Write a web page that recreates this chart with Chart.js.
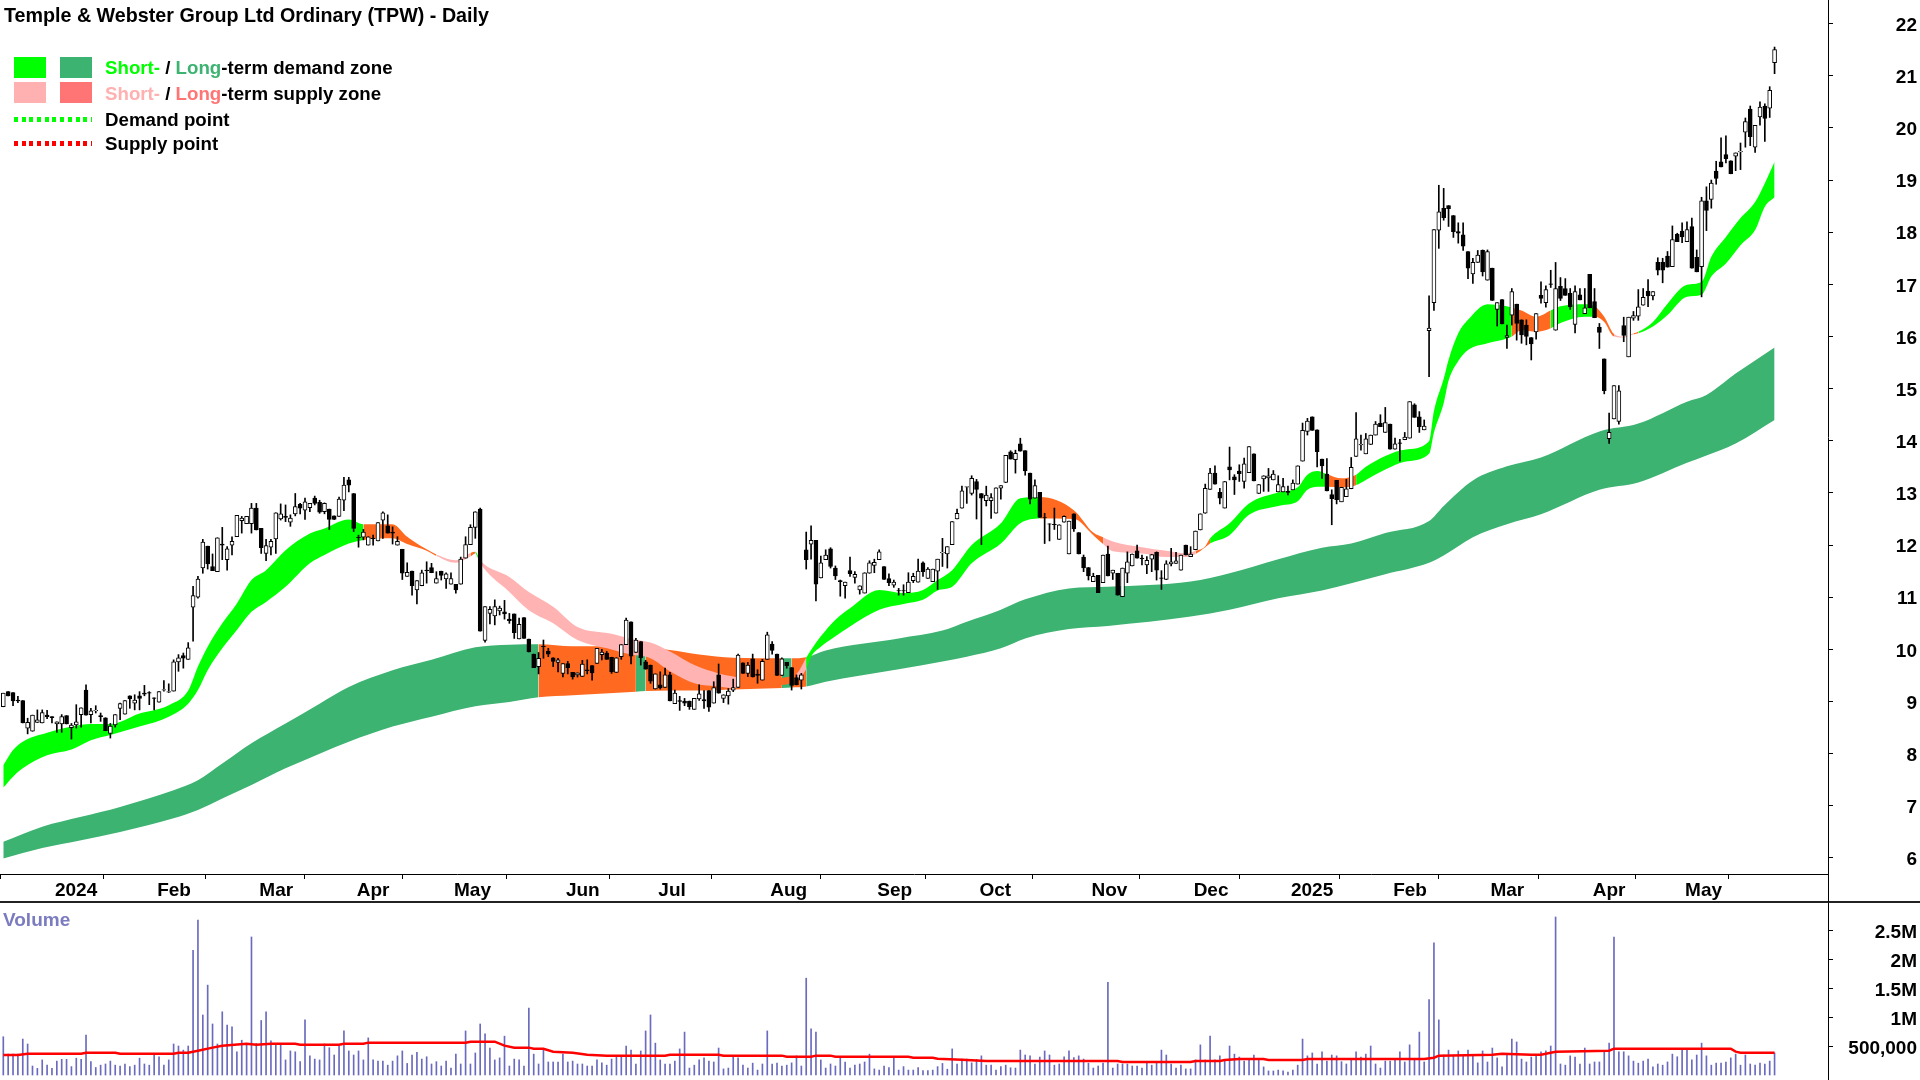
<!DOCTYPE html>
<html>
<head>
<meta charset="utf-8">
<title>TPW</title>
<script src="https://cdn.jsdelivr.net/npm/chart.js@4"></script>
<style>
  html, body { margin: 0; padding: 0; background: #fff; overflow: hidden; }
  body { width: 1920px; height: 1080px; position: relative; font-family: "Liberation Sans", Arial, sans-serif; font-weight: bold; color: #000; }
  canvas { position: absolute; left: 0; }
  #chartPreco { top: 0; }
  #chartVolume { top: 902px; }
  .abs { position: absolute; white-space: nowrap; }
  #titulo { left: 4px; top: 3px; font-size: 19.7px; line-height: 24px; }
  .leg { left: 105px; font-size: 18.7px; line-height: 24px; }
  .caixa { width: 32px; height: 21px; }
  .pontos { left: 14px; width: 78px; height: 5px; }
  #separador { left: 0; top: 901px; width: 1920px; height: 2px; background: #222; }
  #eixoMeio { left: 1828px; top: 874px; width: 1px; height: 28px; background: #000; }
  #rotuloVol { left: 3px; top: 908px; font-size: 19px; line-height: 24px; color: #7b7bc0; }
</style>
</head>
<body>
<canvas id="chartPreco" width="1920" height="902"></canvas>
<canvas id="chartVolume" width="1920" height="178"></canvas>

<div id="separador" class="abs"></div>
<div id="eixoMeio" class="abs"></div>
<div id="titulo" class="abs">Temple &amp; Webster Group Ltd Ordinary (TPW) - Daily</div>

<div class="abs caixa" style="left:14px;top:57px;background:#00ff00"></div>
<div class="abs caixa" style="left:60px;top:57px;background:#3cb371"></div>
<div class="abs caixa" style="left:14px;top:82px;background:#ffb0b0"></div>
<div class="abs caixa" style="left:60px;top:82px;background:#ff7575"></div>
<div class="abs leg" style="top:56px"><span style="color:#00ff00">Short-</span> / <span style="color:#3cb371">Long</span>-term demand zone</div>
<div class="abs leg" style="top:82px"><span style="color:#ffb0b0">Short-</span> / <span style="color:#ff7575">Long</span>-term supply zone</div>
<div class="abs pontos" style="top:117px;background:repeating-linear-gradient(90deg,#00ff00 0 4px,transparent 4px 7.7px)"></div>
<div class="abs pontos" style="top:141px;background:repeating-linear-gradient(90deg,#ff0000 0 4px,transparent 4px 7.7px)"></div>
<div class="abs leg" style="top:108px">Demand point</div>
<div class="abs leg" style="top:132px">Supply point</div>
<div id="rotuloVol" class="abs">Volume</div>

<script>
// =========================
// Daily prices
// =========================
const opens = [
  8.90, 9.19, 9.17, 9.03, 9.02, 8.49, 8.43, 8.60, 8.59, 8.74,
  8.71, 8.57, 8.57, 8.73, 8.50, 8.55, 8.75, 9.22, 8.75, 8.82,
  8.73, 8.69, 8.39, 8.55, 8.87, 8.76, 9.11, 8.97, 9.11, 9.16,
  9.17, 9.07, 8.99, 9.22, 9.18, 9.20, 9.76, 9.88, 9.81, 10.81,
  11.00, 11.56, 11.98, 11.59, 11.49, 12.02, 11.72, 12.00, 12.16, 12.47,
  12.41, 12.41, 12.71, 12.32, 11.84, 11.96, 12.12, 12.50, 12.55, 12.44,
  12.60, 12.78, 12.67, 12.72, 12.90, 12.82, 12.64, 12.69, 12.56, 12.55,
  12.86, 13.25, 12.99, 12.15, 12.15, 12.00, 12.13, 12.08, 12.48, 12.37,
  12.25, 12.00, 11.92, 11.40, 11.50, 11.14, 11.22, 11.52, 11.57, 11.27,
  11.50, 11.35, 11.25, 11.25, 11.25, 11.75, 12.01, 12.34, 12.69, 10.17,
  10.69, 10.64, 10.74, 10.72, 10.58, 10.68, 10.20, 10.61, 10.20, 9.91,
  9.67, 10.06, 9.97, 9.84, 9.75, 9.54, 9.73, 9.56, 9.51, 9.48,
  9.61, 9.69, 9.73, 9.90, 9.93, 9.85, 9.56, 9.86, 10.09, 10.53,
  9.94, 10.15, 9.76, 9.70, 9.24, 9.32, 9.27, 9.51, 8.96, 9.02,
  9.01, 9.01, 8.85, 9.05, 9.04, 9.21, 8.97, 9.51, 9.06, 9.11,
  9.22, 9.27, 9.74, 9.54, 9.82, 9.52, 9.41, 9.81, 10.10, 9.91,
  9.50, 9.75, 9.65, 9.46, 9.41, 11.91, 12.02, 12.09, 11.37, 11.72,
  11.93, 11.56, 11.32, 11.22, 11.51, 11.38, 11.14, 11.08, 11.46, 11.61,
  11.72, 11.59, 11.36, 11.23, 11.13, 11.13, 11.09, 11.32, 11.29, 11.66,
  11.36, 11.30, 11.50, 11.85, 11.83, 12.01, 12.50, 12.71, 13.11, 12.99,
  13.22, 12.99, 12.85, 12.85, 12.61, 13.09, 13.20, 13.79, 13.64, 13.94,
  13.81, 13.38, 12.90, 13.01, 12.53, 12.41, 12.40, 12.11, 12.44, 11.83,
  12.60, 12.24, 11.77, 11.57, 11.30, 11.42, 11.28, 11.83, 11.46, 11.46,
  11.01, 11.46, 11.60, 11.89, 11.75, 11.62, 11.73, 11.86, 11.37, 11.34,
  11.64, 11.65, 11.52, 12.00, 11.78, 11.91, 12.29, 12.61, 13.07, 13.38,
  13.01, 12.71, 13.50, 13.31, 13.42, 13.22, 13.39, 13.75, 12.99, 13.27,
  13.29, 13.25, 13.02, 13.02, 13.03, 13.06, 13.17, 13.61, 14.18, 14.46,
  14.21, 13.65, 13.36, 12.97, 13.24, 12.83, 12.93, 13.08, 13.70, 13.92,
  13.75, 13.93, 14.11, 14.34, 14.16, 14.32, 13.84, 13.96, 14.02, 14.05,
  14.69, 14.46, 14.21, 16.11, 16.65, 18.04, 18.46, 18.51, 18.32, 18.01,
  17.95, 17.63, 17.20, 17.42, 17.65, 17.08, 17.31, 16.52, 16.71, 15.98,
  16.41, 16.62, 16.32, 16.22, 15.98, 16.09, 16.79, 16.65, 17.01, 16.12,
  16.96, 16.92, 16.83, 16.23, 16.80, 16.44, 17.19, 16.67, 16.18, 15.57,
  14.04, 14.42, 14.37, 16.21, 15.61, 16.35, 16.39, 16.60, 16.87, 16.78,
  17.42, 17.42, 17.54, 17.34, 17.96, 18.02, 17.82, 18.11, 17.52, 17.34,
  18.60, 18.63, 19.17, 19.35, 19.49, 19.37, 19.46, 19.54, 19.92, 20.36,
  19.63, 20.21, 20.42, 20.38, 21.25
];

const highs = [
  9.16, 9.19, 9.17, 9.10, 9.02, 8.68, 8.74, 8.84, 8.84, 8.83,
  8.71, 8.61, 8.75, 8.73, 8.58, 8.94, 8.88, 9.32, 8.87, 8.92,
  8.78, 8.69, 8.58, 8.75, 8.97, 9.02, 9.11, 9.13, 9.19, 9.31,
  9.19, 9.07, 9.19, 9.40, 9.34, 9.80, 9.90, 9.93, 10.13, 11.21,
  11.40, 12.11, 11.98, 11.83, 12.14, 12.34, 11.97, 12.16, 12.57, 12.55,
  12.55, 12.80, 12.80, 12.32, 12.11, 12.11, 12.62, 12.79, 12.77, 12.58,
  12.99, 12.80, 12.90, 12.80, 12.94, 12.86, 12.81, 12.69, 12.56, 12.92,
  13.30, 13.30, 12.99, 12.19, 12.30, 12.16, 12.19, 12.43, 12.64, 12.58,
  12.35, 12.16, 11.92, 11.66, 11.50, 11.32, 11.52, 11.68, 11.65, 11.49,
  11.50, 11.47, 11.47, 11.25, 11.77, 12.16, 12.39, 12.64, 12.71, 10.82,
  10.82, 10.95, 10.83, 10.94, 10.69, 10.68, 10.60, 10.61, 10.20, 9.91,
  9.94, 10.18, 10.02, 9.84, 9.83, 9.73, 9.77, 9.56, 9.55, 9.79,
  9.80, 9.69, 10.02, 10.00, 9.96, 9.85, 9.84, 10.09, 10.60, 10.53,
  10.21, 10.15, 9.79, 9.70, 9.53, 9.57, 9.64, 9.56, 9.22, 9.10,
  9.06, 9.01, 9.06, 9.32, 9.21, 9.21, 9.38, 9.72, 9.13, 9.25,
  9.43, 9.91, 9.74, 9.75, 9.91, 9.61, 9.81, 10.33, 10.15, 9.91,
  9.84, 9.75, 9.65, 9.51, 9.54, 12.25, 12.37, 12.09, 11.79, 11.91,
  11.95, 11.60, 11.33, 11.29, 11.77, 11.49, 11.22, 11.47, 11.70, 11.73,
  11.91, 11.59, 11.45, 11.33, 11.17, 11.24, 11.47, 11.46, 11.73, 11.68,
  11.57, 11.54, 11.73, 12.13, 11.97, 12.45, 12.69, 13.13, 13.12, 13.33,
  13.26, 12.99, 13.13, 12.99, 13.10, 13.14, 13.72, 13.81, 13.82, 14.05,
  13.81, 13.38, 13.25, 13.01, 12.61, 12.41, 12.71, 12.39, 12.56, 12.46,
  12.60, 12.24, 11.81, 11.57, 11.46, 11.42, 11.81, 11.98, 11.52, 11.46,
  11.56, 11.87, 11.83, 12.00, 11.81, 11.78, 11.82, 11.87, 11.51, 11.70,
  11.94, 11.86, 11.81, 12.00, 11.97, 12.27, 12.60, 13.17, 13.47, 13.52,
  13.09, 13.22, 13.88, 13.35, 13.54, 13.67, 13.89, 13.75, 13.16, 13.33,
  13.47, 13.43, 13.33, 13.28, 13.13, 13.25, 13.52, 14.34, 14.43, 14.46,
  14.21, 13.65, 13.66, 13.06, 13.24, 13.11, 13.26, 13.68, 14.54, 14.11,
  14.14, 14.11, 14.37, 14.50, 14.64, 14.32, 14.05, 14.03, 14.16, 14.75,
  14.71, 14.56, 14.40, 16.78, 18.05, 18.90, 18.84, 18.51, 18.32, 18.18,
  18.18, 17.63, 17.50, 17.65, 17.66, 17.66, 17.31, 16.65, 16.71, 16.22,
  16.92, 16.62, 16.32, 16.32, 15.98, 16.44, 17.05, 16.97, 17.27, 17.42,
  17.13, 17.11, 16.92, 16.97, 16.92, 16.92, 17.19, 16.92, 16.25, 15.57,
  14.53, 15.06, 15.06, 16.37, 16.37, 16.48, 16.90, 16.92, 17.09, 16.86,
  17.51, 17.50, 17.63, 18.12, 17.98, 18.18, 18.20, 18.27, 17.66, 18.67,
  18.87, 19.00, 19.36, 19.81, 19.85, 19.37, 19.52, 19.71, 20.19, 20.42,
  20.05, 20.50, 20.46, 20.79, 21.55
];

const lows = [
  8.90, 9.11, 8.92, 8.98, 8.59, 8.38, 8.43, 8.60, 8.59, 8.67,
  8.59, 8.41, 8.41, 8.57, 8.28, 8.49, 8.51, 8.74, 8.59, 8.78,
  8.62, 8.44, 8.30, 8.51, 8.65, 8.76, 8.87, 8.84, 8.84, 9.11,
  8.94, 8.84, 8.99, 9.20, 9.17, 9.20, 9.58, 9.64, 9.81, 10.16,
  10.98, 11.46, 11.54, 11.51, 11.49, 11.72, 11.52, 11.81, 12.16, 12.23,
  12.41, 12.23, 12.29, 11.84, 11.70, 11.81, 11.84, 12.48, 12.45, 12.36,
  12.56, 12.60, 12.49, 12.64, 12.77, 12.61, 12.60, 12.30, 12.49, 12.55,
  12.66, 13.02, 12.26, 11.96, 12.10, 12.00, 12.00, 12.08, 12.13, 12.23,
  12.02, 12.00, 11.34, 11.40, 11.04, 10.87, 11.22, 11.27, 11.47, 11.27,
  11.33, 11.17, 11.25, 11.08, 11.25, 11.75, 12.01, 12.13, 10.35, 10.14,
  10.49, 10.47, 10.66, 10.58, 10.50, 10.21, 10.20, 10.21, 9.95, 9.65,
  9.53, 9.83, 9.86, 9.67, 9.57, 9.47, 9.53, 9.43, 9.47, 9.48,
  9.53, 9.41, 9.73, 9.80, 9.81, 9.54, 9.56, 9.81, 10.09, 9.72,
  9.94, 9.70, 9.62, 9.35, 9.24, 9.24, 9.27, 9.01, 8.96, 8.83,
  8.92, 8.85, 8.85, 9.02, 8.87, 8.81, 8.97, 9.16, 8.98, 8.95,
  9.19, 9.27, 9.54, 9.48, 9.47, 9.35, 9.41, 9.81, 9.91, 9.50,
  9.50, 9.64, 9.22, 9.32, 9.24, 11.54, 11.73, 10.93, 11.37, 11.72,
  11.56, 11.34, 11.02, 10.98, 11.40, 11.27, 11.06, 11.08, 11.46, 11.47,
  11.72, 11.34, 11.22, 11.19, 11.04, 11.04, 11.09, 11.28, 11.29, 11.40,
  11.36, 11.30, 11.15, 11.59, 11.56, 12.01, 12.50, 12.71, 12.80, 12.96,
  12.50, 12.01, 12.75, 12.51, 12.61, 12.88, 13.20, 13.65, 13.38, 13.80,
  13.34, 12.79, 12.90, 12.53, 12.03, 12.08, 12.30, 12.11, 12.44, 11.83,
  12.26, 11.83, 11.49, 11.33, 11.30, 11.09, 11.28, 11.41, 11.34, 11.04,
  11.01, 11.28, 11.60, 11.75, 11.62, 11.45, 11.49, 11.33, 11.15, 11.34,
  11.60, 11.65, 11.52, 11.81, 11.78, 11.91, 12.29, 12.61, 13.07, 13.17,
  12.79, 12.71, 13.25, 12.97, 13.22, 13.09, 13.39, 13.23, 12.99, 13.03,
  13.03, 13.25, 13.02, 13.02, 12.96, 13.06, 13.17, 13.61, 14.11, 14.20,
  13.50, 13.28, 13.04, 12.39, 12.79, 12.83, 12.93, 13.08, 13.70, 13.82,
  13.75, 13.93, 14.11, 14.27, 14.16, 13.84, 13.84, 13.61, 14.02, 14.05,
  14.45, 14.16, 14.21, 15.23, 16.50, 17.69, 18.23, 18.11, 17.90, 17.79,
  17.65, 17.11, 17.02, 17.42, 17.16, 17.08, 16.69, 16.20, 16.24, 15.77,
  16.22, 15.93, 15.87, 15.84, 15.55, 15.95, 16.64, 16.56, 16.94, 16.12,
  16.69, 16.79, 16.52, 16.07, 16.70, 16.44, 16.55, 16.36, 15.77, 14.90,
  13.95, 14.42, 14.32, 15.90, 15.61, 16.31, 16.31, 16.60, 16.57, 16.70,
  17.18, 17.03, 17.33, 17.34, 17.82, 17.80, 17.82, 17.31, 17.24, 16.76,
  18.03, 18.46, 18.92, 19.25, 19.33, 19.12, 19.18, 19.20, 19.63, 19.66,
  19.53, 20.05, 19.74, 20.20, 21.04
];

const closes = [
  9.16, 9.11, 9.01, 9.01, 8.59, 8.60, 8.74, 8.65, 8.79, 8.71,
  8.69, 8.61, 8.71, 8.57, 8.55, 8.61, 8.88, 8.74, 8.82, 8.83,
  8.71, 8.44, 8.53, 8.75, 8.96, 9.02, 9.05, 9.03, 9.06, 9.14,
  9.16, 9.06, 9.19, 9.23, 9.19, 9.76, 9.84, 9.83, 10.03, 11.03,
  11.35, 12.06, 11.64, 11.51, 12.14, 12.00, 11.93, 12.07, 12.57, 12.52,
  12.55, 12.71, 12.29, 11.95, 11.99, 12.07, 12.62, 12.60, 12.53, 12.52,
  12.74, 12.71, 12.83, 12.80, 12.80, 12.63, 12.80, 12.49, 12.49, 12.88,
  13.15, 13.15, 12.32, 12.14, 12.25, 12.16, 12.12, 12.43, 12.62, 12.23,
  12.23, 12.07, 11.46, 11.48, 11.22, 11.32, 11.47, 11.51, 11.47, 11.36,
  11.42, 11.45, 11.36, 11.14, 11.73, 12.01, 12.34, 12.64, 10.35, 10.82,
  10.77, 10.82, 10.79, 10.68, 10.55, 10.32, 10.48, 10.21, 9.95, 9.65,
  9.83, 10.05, 9.91, 9.77, 9.80, 9.73, 9.65, 9.47, 9.55, 9.72,
  9.59, 9.55, 10.02, 9.95, 9.81, 9.57, 9.84, 10.09, 10.56, 9.87,
  10.18, 9.84, 9.62, 9.39, 9.53, 9.26, 9.51, 9.01, 9.16, 9.00,
  8.97, 8.90, 9.06, 9.15, 9.01, 8.89, 9.27, 9.16, 9.13, 9.20,
  9.27, 9.89, 9.54, 9.70, 9.47, 9.50, 9.77, 10.28, 9.98, 9.50,
  9.82, 9.69, 9.31, 9.32, 9.51, 11.72, 12.09, 11.25, 11.66, 11.81,
  11.59, 11.41, 11.30, 11.29, 11.45, 11.44, 11.22, 11.47, 11.66, 11.67,
  11.87, 11.34, 11.28, 11.29, 11.12, 11.12, 11.29, 11.40, 11.50, 11.49,
  11.54, 11.54, 11.73, 11.86, 11.97, 12.45, 12.61, 13.04, 13.12, 13.28,
  13.07, 12.90, 12.96, 12.91, 13.10, 13.14, 13.72, 13.65, 13.76, 13.80,
  13.42, 12.88, 13.14, 12.53, 12.52, 12.40, 12.39, 12.39, 12.55, 12.46,
  12.31, 11.83, 11.56, 11.41, 11.40, 11.09, 11.81, 11.41, 11.52, 11.04,
  11.56, 11.68, 11.83, 11.75, 11.74, 11.71, 11.82, 11.52, 11.36, 11.64,
  11.68, 11.70, 11.81, 11.81, 11.83, 12.27, 12.60, 13.09, 13.38, 13.17,
  12.90, 13.22, 13.44, 13.25, 13.37, 13.56, 13.89, 13.23, 13.16, 13.33,
  13.33, 13.36, 13.16, 13.12, 13.01, 13.19, 13.52, 14.20, 14.38, 14.20,
  13.79, 13.52, 13.04, 12.89, 12.87, 13.11, 13.08, 13.49, 14.04, 13.93,
  14.04, 14.11, 14.32, 14.27, 14.35, 13.84, 13.94, 13.95, 14.07, 14.75,
  14.45, 14.27, 14.28, 16.16, 18.05, 18.39, 18.28, 18.45, 18.01, 17.98,
  17.73, 17.31, 17.42, 17.56, 17.24, 17.63, 16.69, 16.65, 16.24, 16.02,
  16.86, 16.25, 16.03, 16.00, 15.86, 16.44, 16.73, 16.90, 17.00, 16.92,
  16.73, 16.79, 16.57, 16.86, 16.70, 16.55, 16.55, 16.36, 16.08, 14.96,
  14.16, 15.06, 14.96, 16.02, 16.37, 16.40, 16.57, 16.75, 16.78, 16.86,
  17.27, 17.27, 17.33, 17.86, 17.82, 17.91, 18.05, 17.31, 17.24, 18.60,
  18.42, 18.94, 19.03, 19.25, 19.41, 19.12, 19.52, 19.55, 20.12, 19.83,
  20.05, 20.40, 20.18, 20.72, 21.50
];

// Daily volume, in thousands of shares
const volumes = [
  660, 360, 360, 360, 620, 535, 155, 115, 260, 170,
  115, 240, 270, 270, 145, 290, 270, 690, 230, 130,
  170, 190, 240, 170, 155, 190, 145, 170, 290, 190,
  170, 370, 315, 170, 260, 535, 500, 430, 500, 2150,
  2670, 1035, 1550, 880, 535, 1090, 860, 830, 400, 600,
  535, 2380, 545, 940, 1090, 590, 545, 520, 260, 415,
  400, 230, 950, 330, 275, 260, 535, 470, 345, 505,
  760, 415, 345, 415, 260, 640, 260, 240, 240, 170,
  240, 330, 415, 200, 345, 390, 275, 315, 190, 230,
  155, 240, 120, 360, 190, 760, 190, 380, 880, 710,
  465, 260, 295, 670, 155, 275, 260, 155, 1155, 360,
  190, 430, 225, 225, 225, 360, 225, 240, 190, 190,
  155, 155, 260, 210, 170, 275, 330, 315, 500, 430,
  190, 415, 760, 1035, 550, 260, 190, 190, 240, 450,
  740, 120, 170, 260, 295, 240, 225, 465, 105, 120,
  335, 295, 170, 120, 205, 85, 190, 760, 190, 205,
  155, 170, 210, 330, 155, 1670, 795, 740, 260, 120,
  190, 155, 295, 225, 120, 170, 190, 225, 360, 105,
  85, 155, 130, 315, 85, 145, 85, 85, 130, 75,
  75, 85, 145, 200, 100, 450, 190, 275, 275, 210,
  270, 330, 170, 170, 85, 145, 170, 125, 120, 430,
  345, 330, 190, 310, 415, 345, 170, 190, 315, 415,
  300, 330, 275, 205, 120, 155, 205, 1600, 120, 190,
  190, 190, 155, 155, 120, 205, 170, 225, 430, 345,
  190, 120, 170, 105, 105, 260, 520, 260, 670, 260,
  330, 260, 500, 360, 310, 240, 260, 345, 260, 140,
  70, 70, 85, 70, 50, 85, 170, 620, 330, 380,
  190, 400, 240, 345, 330, 230, 190, 275, 400, 310,
  360, 500, 190, 120, 240, 240, 275, 400, 225, 520,
  260, 740, 225, 1300, 2280, 950, 345, 430, 345, 415,
  345, 430, 345, 210, 415, 225, 465, 295, 140, 345,
  620, 570, 275, 225, 310, 330, 400, 415, 500, 2725,
  190, 170, 330, 310, 190, 465, 190, 225, 225, 415,
  550, 2380, 400, 400, 330, 240, 205, 240, 275, 140,
  190, 170, 225, 360, 315, 450, 460, 260, 345, 550,
  330, 170, 205, 205, 225, 295, 360, 170, 345, 190,
  170, 205, 190, 240, 380
];

// Volume average line
const mediaDias = [
  0, 3, 5, 16, 17, 23, 24, 35, 36, 38, 40, 43, 45, 50, 52, 55, 60, 61, 69, 70,
  74, 75, 95, 96, 101, 103, 105, 108, 109, 111, 113, 117, 120, 124, 136, 137, 147, 148, 160, 161,
  166, 167, 170, 171, 186, 187, 191, 192, 197, 202, 229, 230, 244, 245, 250, 251, 254, 259, 260, 267,
  268, 292, 294, 295, 306, 308, 314, 316, 319, 330, 331, 355, 356, 357, 364
];
const mediaVolume = [
  345, 345, 368, 368, 385, 385, 368, 368, 385, 385, 420, 472, 506, 540, 523, 540, 540, 523, 523, 540,
  540, 558, 558, 575, 575, 506, 472, 472, 454, 454, 403, 385, 351, 334, 334, 351, 351, 334, 334, 316,
  316, 334, 334, 316, 316, 299, 299, 282, 265, 242, 242, 224, 224, 242, 242, 259, 276, 276, 259, 259,
  276, 276, 299, 334, 351, 368, 351, 351, 402, 420, 454, 454, 403, 385, 385
];

// =========================
// Long-term zone
// =========================
const longoDias = [
  0, 8, 16, 24, 35, 40, 45, 51, 58, 65, 71, 80, 88, 97, 104, 110, 117, 130, 132, 137,
  143, 150, 160, 162, 165, 169, 184, 193, 198, 205, 210, 219, 227, 244, 252, 262, 271, 277, 284, 293,
  296, 302, 309, 316, 328, 336, 346, 350, 356, 364
];
const longoTopo = [
  6.31, 6.60, 6.79, 6.98, 7.30, 7.49, 7.81, 8.20, 8.58, 8.96, 9.28, 9.60, 9.80, 10.04, 10.09, 10.10, 10.06, 10.06, 10.04, 9.99,
  9.90, 9.84, 9.83, 9.83, 9.85, 9.98, 10.21, 10.36, 10.53, 10.76, 10.96, 11.17, 11.20, 11.30, 11.46, 11.73, 11.95, 12.03, 12.23, 12.46,
  12.75, 13.24, 13.51, 13.68, 14.18, 14.33, 14.75, 14.88, 15.29, 15.79
];
const longoBase = [
  5.99, 6.19, 6.34, 6.50, 6.76, 6.92, 7.14, 7.40, 7.72, 8.00, 8.23, 8.52, 8.71, 8.91, 8.99, 9.08, 9.12, 9.19, 9.20, 9.21,
  9.21, 9.23, 9.26, 9.27, 9.29, 9.38, 9.62, 9.77, 9.86, 10.02, 10.21, 10.39, 10.45, 10.63, 10.76, 10.98, 11.13, 11.27, 11.44, 11.66,
  11.80, 12.15, 12.40, 12.59, 13.06, 13.20, 13.58, 13.72, 13.95, 14.40
];
// zone state from each sample to the next: D demand, O overlap
const longoTipo = [
  'D','D','D','D','D','D','D','D','D','D','D','D','D','D','D','O','O','D','O','O',
  'O','O','D','O','D','D','D','D','D','D','D','D','D','D','D','D','D','D','D','D',
  'D','D','D','D','D','D','D','D','D','D'
];

// =========================
// Short-term zone
// =========================
const curtoDias = [
  0, 2, 4, 9, 14, 18, 22, 28, 34, 38, 40, 42, 45, 48, 51, 54, 58, 63, 66, 71,
  74, 80, 83, 87, 89, 93, 96, 97, 98, 104, 108, 113, 118, 125, 129, 133, 137, 142, 147, 150,
  151, 158, 163, 165, 166, 168, 171, 174, 180, 185, 189, 192, 195, 199, 205, 209, 213, 220, 224, 226,
  228, 234, 239, 243, 245, 247, 248, 252, 256, 262, 266, 268, 270, 272, 275, 278, 280, 284, 288, 293,
  294, 296, 297, 299, 301, 305, 309, 310, 312, 315, 318, 320, 325, 327, 329, 331, 333, 335, 336, 339,
  342, 346, 349, 351, 354, 357, 360, 362, 364
];
const curtoTopo = [
  7.78, 8.07, 8.23, 8.40, 8.52, 8.57, 8.57, 8.77, 8.93, 9.21, 9.67, 10.05, 10.50, 10.88, 11.33, 11.52, 11.90, 12.22, 12.32, 12.49,
  12.40, 12.40, 12.16, 11.92, 11.82, 11.71, 11.85, 11.87, 11.71, 11.39, 11.10, 10.82, 10.43, 10.30, 10.20, 10.13, 9.96, 9.70, 9.54, 9.48,
  9.46, 9.45, 9.54, 9.84, 9.99, 10.25, 10.57, 10.79, 11.14, 11.08, 11.14, 11.33, 11.52, 12.00, 12.42, 12.90, 12.92, 12.67, 12.24, 12.15,
  12.07, 11.96, 11.89, 11.84, 11.89, 11.98, 12.13, 12.42, 12.80, 13.01, 13.11, 13.35, 13.42, 13.36, 13.28, 13.35, 13.50, 13.71, 13.83, 13.99,
  14.57, 15.19, 15.55, 16.06, 16.32, 16.62, 16.58, 16.55, 16.50, 16.38, 16.50, 16.58, 16.62, 16.58, 16.38, 16.05, 16.00, 16.06, 16.09, 16.28,
  16.63, 16.99, 17.05, 17.53, 17.91, 18.27, 18.58, 18.94, 19.35
];
const curtoBase = [
  7.35, 7.56, 7.72, 7.97, 8.08, 8.26, 8.36, 8.52, 8.71, 8.96, 9.22, 9.60, 10.02, 10.37, 10.72, 10.91, 11.20, 11.65, 11.81, 12.03,
  12.10, 12.13, 12.02, 11.89, 11.79, 11.66, 11.78, 11.84, 11.65, 11.10, 10.75, 10.50, 10.18, 10.00, 9.90, 9.83, 9.58, 9.35, 9.29, 9.26,
  9.26, 9.30, 9.41, 9.62, 9.86, 10.05, 10.25, 10.44, 10.76, 10.87, 10.95, 11.13, 11.20, 11.65, 12.03, 12.42, 12.51, 12.50, 12.19, 12.02,
  11.88, 11.84, 11.77, 11.77, 11.83, 11.96, 12.03, 12.19, 12.58, 12.75, 12.84, 13.06, 13.12, 13.12, 13.11, 13.15, 13.25, 13.45, 13.60, 13.75,
  14.16, 14.72, 15.15, 15.53, 15.74, 15.87, 15.96, 16.00, 16.12, 16.09, 16.16, 16.26, 16.38, 16.38, 16.28, 16.00, 15.98, 16.04, 16.06, 16.19,
  16.41, 16.76, 16.80, 17.15, 17.40, 17.75, 18.04, 18.49, 18.67
];
// D demand, O overlap, S supply
const curtoTipo = [
  'D','D','D','D','D','D','D','D','D','D','D','D','D','D','D','D','D','D','D','D',
  'O','O','O','O','S','S','O','D','S','S','S','S','S','S','S','S','S','S','S','S',
  'O','O','S','D','D','D','D','D','D','D','D','D','D','D','D','D','O','O','O','S',
  'S','S','S','S','O','O','D','D','D','D','D','D','D','O','O','D','D','D','D','D',
  'D','D','D','D','D','D','D','O','O','O','D','D','D','O','O','S','S','O','D','D',
  'D','D','D','D','D','D','D','D','D'
];

// =========================
// Axes
// =========================
const marcasMes = [10, 31, 52, 72, 92, 115, 134, 157, 179, 200, 223, 244, 264, 285, 305, 326, 345];
const rotulosMes = ['2024', 'Feb', 'Mar', 'Apr', 'May', 'Jun', 'Jul', 'Aug', 'Sep', 'Oct', 'Nov', 'Dec', '2025', 'Feb', 'Mar', 'Apr', 'May'];
const ticksPreco = [6, 7, 8, 9, 10, 11, 12, 13, 14, 15, 16, 17, 18, 19, 20, 21, 22];
const ticksVolume = [500, 1000, 1500, 2000, 2500];
const rotulosVolume = ['500,000', '1M', '1.5M', '2M', '2.5M'];

const CORES_ZONA = { D: '#00ff00', O: '#ff6a20', S: '#ffb3b3' };
const CORES_LONGO = { D: '#3cb371', O: '#ff6a20' };
const FONTE = { family: '"Liberation Sans", Arial, sans-serif', size: 19, weight: 'bold' };

Chart.defaults.animation = false;

// Axis of the right side: full height, no margin for its labels
function ajustarEixoDireito(s) {
  s.width = 89;
  s.paddingTop = 0;
  s.paddingBottom = 0;
}

// Builds the pair of lines whose gap is filled with the zone colour
function criarZona(dias, topo, base, tipo, cores, ordem) {
  return [
    {
      type: 'line',
      data: dias.map((d, i) => ({ x: d, y: topo[i] })),
      borderWidth: 0,
      pointRadius: 0,
      cubicInterpolationMode: 'monotone',
      fill: '+1',
      backgroundColor: cores.D,
      segment: { backgroundColor: ctx => cores[tipo[ctx.p0DataIndex]] },
      order: ordem
    },
    {
      type: 'line',
      data: dias.map((d, i) => ({ x: d, y: base[i] })),
      borderWidth: 0,
      pointRadius: 0,
      cubicInterpolationMode: 'monotone',
      fill: false,
      order: ordem + 1
    }
  ];
}

function criarGraficoPreco() {
  const dias = opens.map((_, i) => i);

  new Chart(document.getElementById('chartPreco').getContext('2d'), {
    type: 'bar',
    data: {
      datasets: [
        {
          data: dias.map(i => ({ x: i, y: [opens[i], closes[i]] })),
          backgroundColor: dias.map(i => (closes[i] > opens[i] ? '#ffffff' : '#000000')),
          borderColor: '#000000',
          borderWidth: 1,
          borderSkipped: false,
          barThickness: 4,
          grouped: false,
          order: 1
        },
        {
          data: dias.map(i => ({ x: i, y: [lows[i], highs[i]] })),
          backgroundColor: '#000000',
          barThickness: 1,
          grouped: false,
          order: 2
        },
        ...criarZona(curtoDias, curtoTopo, curtoBase, curtoTipo, CORES_ZONA, 3),
        ...criarZona(longoDias, longoTopo, longoBase, longoTipo, CORES_LONGO, 5)
      ]
    },
    options: {
      responsive: false,
      devicePixelRatio: 1,
      layout: { padding: { top: 0, left: 0, right: 3, bottom: 0 } },
      plugins: { legend: { display: false }, tooltip: { enabled: false } },
      scales: {
        x: {
          type: 'linear',
          offset: false,
          min: -0.678,
          max: 374.98,
          afterBuildTicks: s => { s.ticks = marcasMes.map(v => ({ value: v })); },
          afterFit: s => { s.height = 28; s.paddingLeft = 0; s.paddingRight = 0; },
          grid: { drawOnChartArea: false, color: '#000', tickLength: 5 },
          border: { color: '#000' },
          ticks: {
            callback: (v, i) => rotulosMes[i],
            color: '#000',
            font: FONTE,
            align: 'start',
            labelOffset: 3,
            padding: 0,
            maxRotation: 0,
            autoSkip: false
          }
        },
        y: {
          position: 'right',
          min: 5.693,
          max: 22.4526,
          afterBuildTicks: s => { s.ticks = ticksPreco.map(v => ({ value: v })); },
          afterFit: ajustarEixoDireito,
          grid: { drawOnChartArea: false, color: '#000', tickLength: 5 },
          border: { color: '#000' },
          ticks: { color: '#000', font: FONTE, crossAlign: 'far', autoSkip: false, padding: 0, labelOffset: 2 }
        }
      }
    }
  });
}

function criarGraficoVolume() {
  const dias = volumes.map((_, i) => i);

  new Chart(document.getElementById('chartVolume').getContext('2d'), {
    type: 'bar',
    data: {
      datasets: [
        {
          type: 'line',
          data: mediaDias.map((d, i) => ({ x: d, y: mediaVolume[i] })),
          borderColor: '#ff0000',
          borderWidth: 2.5,
          pointRadius: 0,
          fill: false,
          order: 1
        },
        {
          data: dias.map(i => ({ x: i, y: volumes[i] })),
          backgroundColor: '#6a6abf',
          barThickness: 1,
          grouped: false,
          order: 2
        }
      ]
    },
    options: {
      responsive: false,
      devicePixelRatio: 1,
      layout: { padding: { top: 0, left: 0, right: 3, bottom: 0 } },
      plugins: { legend: { display: false }, tooltip: { enabled: false } },
      scales: {
        x: { type: 'linear', offset: false, min: -0.678, max: 374.98, display: false },
        y: {
          position: 'right',
          min: -86,
          max: 2983,
          afterBuildTicks: s => { s.ticks = ticksVolume.map(v => ({ value: v })); },
          afterFit: ajustarEixoDireito,
          grid: { drawOnChartArea: false, color: '#000', tickLength: 5 },
          border: { color: '#000' },
          ticks: {
            callback: (v, i) => rotulosVolume[i],
            color: '#000',
            font: FONTE,
            crossAlign: 'far',
            autoSkip: false,
            padding: 0,
            labelOffset: 3
          }
        }
      }
    }
  });
}

criarGraficoPreco();
criarGraficoVolume();
</script>
</body>
</html>
